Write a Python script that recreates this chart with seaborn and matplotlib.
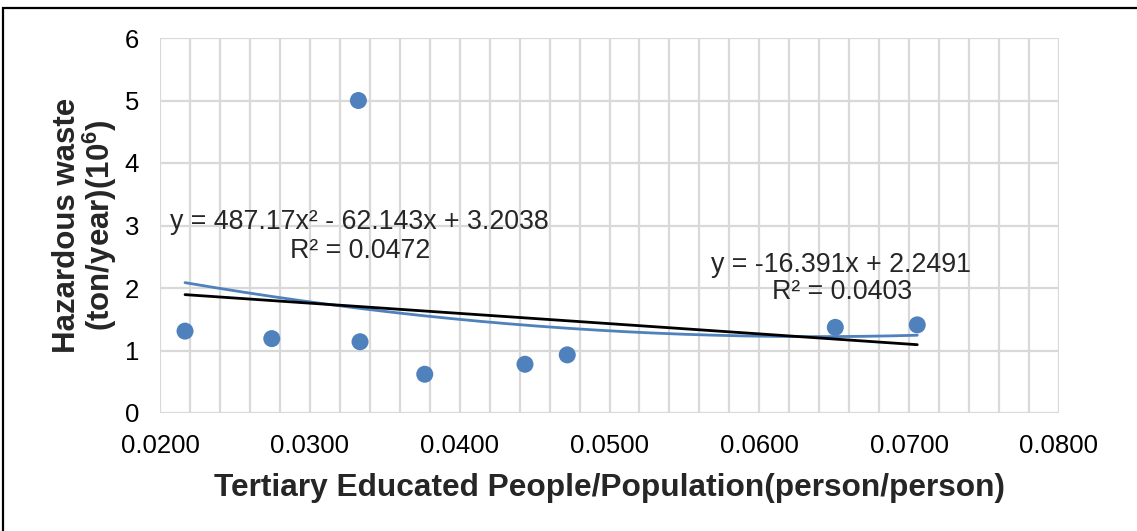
import numpy as np
import pandas as pd
import matplotlib
matplotlib.use("Agg")
import matplotlib.pyplot as plt
import seaborn as sns
from matplotlib.patches import Rectangle

# ---- data ----
x_vals = [0.02167, 0.02746, 0.03324, 0.03335, 0.03767, 0.04436, 0.04718, 0.06507, 0.07054]
y_vals = [1.31, 1.19, 5.00, 1.14, 0.62, 0.78, 0.93, 1.37, 1.41]
lin_coef = [-16.391, 2.2491]            # y = a x + b
poly_coef = [487.17, -62.143, 3.2038]   # y = a x^2 + b x + c
lin_label = ["y = -16.391x + 2.2491", "R² = 0.0403"]
poly_label = ["y = 487.17x² - 62.143x + 3.2038", "R² = 0.0472"]
x_ticks = [0.02, 0.03, 0.04, 0.05, 0.06, 0.07, 0.08]
x_tick_labels = ["0.0200", "0.0300", "0.0400", "0.0500", "0.0600", "0.0700", "0.0800"]
y_ticks = [0, 1, 2, 3, 4, 5, 6]
x_label = "Tertiary Educated People/Population(person/person)"
y_label = "Hazardous waste\n(ton/year)(10$^{\\mathbf{6}}$)"

sns.set_theme(style="white")
plt.rcParams['font.family'] = ['Liberation Sans', 'DejaVu Sans']
plt.rcParams['mathtext.fontset'] = 'custom'
plt.rcParams['mathtext.rm'] = 'Liberation Sans'
plt.rcParams['mathtext.bf'] = 'Liberation Sans:bold'
plt.rcParams['mathtext.it'] = 'Liberation Sans:italic'

W, H = 1137, 531
fig = plt.figure(figsize=(W / 100, H / 100), dpi=100)
fig.patch.set_facecolor("white")
ax = fig.add_axes([160 / W, (H - 413) / H, 899 / W, (413 - 38) / H])

df = pd.DataFrame({"x": x_vals, "y": y_vals})
blue = "#4F81BD"
grid_c = "#D9D9D9"

ax.set_xlim(0.02, 0.08)
ax.set_ylim(0, 6)

# grid
ax.set_xticks(np.arange(0.02, 0.0801, 0.002), minor=True)
ax.set_xticks(x_ticks)
ax.set_xticklabels(x_tick_labels)
ax.set_yticks(y_ticks)
ax.grid(True, which="both", axis="x", color=grid_c, lw=1.6)
ax.grid(True, which="major", axis="y", color=grid_c, lw=1.6)
ax.set_axisbelow(True)
for s in ax.spines.values():
    s.set_visible(False)
ax.tick_params(which="both", length=0)
ax.tick_params(axis="both", labelsize=18.5, colors="black")
ax.tick_params(axis="x", pad=15)
ax.tick_params(axis="y", pad=15)

# trend lines
xs = np.linspace(min(x_vals), max(x_vals), 200)
trend = pd.DataFrame({
    "x": xs,
    "lin": np.polyval(lin_coef, xs),
    "poly": np.polyval(poly_coef, xs),
})
sns.lineplot(data=trend, x="x", y="poly", ax=ax, color=blue, lw=2.0, zorder=3)
sns.lineplot(data=trend, x="x", y="lin", ax=ax, color="black", lw=2.0, zorder=3)

# points
sns.scatterplot(data=df, x="x", y="y", ax=ax, color=blue, s=150,
                edgecolor="none", zorder=4, clip_on=False)

# trendline labels
ax.text(0.03328, 3.05, poly_label[0], fontsize=19.3, ha="center", va="center", zorder=5)
ax.text(0.03335, 2.60, poly_label[1], fontsize=19.3, ha="center", va="center", zorder=5)
ax.text(0.06545, 2.37, lin_label[0], fontsize=19.3, ha="center", va="center", zorder=5)
ax.text(0.06550, 1.93, lin_label[1], fontsize=19.3, ha="center", va="center", zorder=5)

ax.set_xlabel(x_label, fontsize=22.8, fontweight="bold", labelpad=11)
ax.set_ylabel(y_label, fontsize=22.5, fontweight="bold", labelpad=4, linespacing=0.98)

# outer border (clipped at right and bottom like the reference)
fig.patches.append(Rectangle((3 / W, -0.05), 1.2, 1 - 8 / H + 0.05,
                             transform=fig.transFigure, fill=False,
                             edgecolor="black", lw=1.6))

fig.savefig("out.png", dpi=100)
